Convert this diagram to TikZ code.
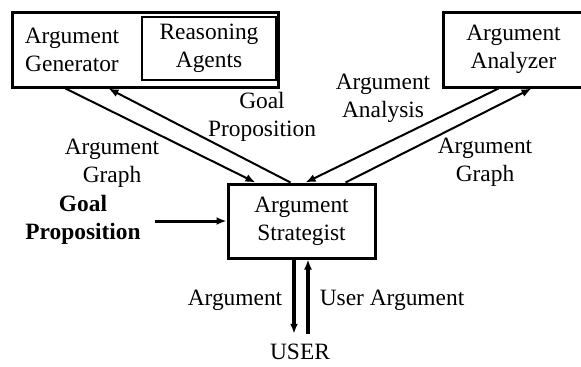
\documentclass[tikz,border=0pt]{standalone}
\usepackage{fontspec}
\setmainfont{Liberation Serif}
\usetikzlibrary{arrows.meta}
\begin{document}
\begin{tikzpicture}[x=0.5pt,y=-0.5pt,
    >={Latex[length=5pt,width=4pt]},
    every node/.style={font=\fontsize{11.7}{14}\selectfont},
    box/.style={draw,line width=1.5pt,inner sep=0pt,align=center},
    lbl/.style={align=center,inner sep=0pt},
    flow/.style={->,line width=1pt},
    userflow/.style={->,line width=1.6pt}]
    \useasboundingbox (0,0) rectangle (581,366);
    % boxes
    \draw (145,49.5) node[box,minimum width=133pt,minimum height=37.5pt] (gen) {};
    \draw (72,50) node[lbl] (gentext) {Argument\\Generator};
    \draw (209,48.5) node[box,line width=1.2pt,minimum width=67pt,minimum height=31.5pt] (agents) {Reasoning\\Agents};
    \draw (513.5,49.5) node[box,minimum width=70.5pt,minimum height=37.5pt] (ana) {Argument\\Analyzer};
    \draw (301.5,221) node[box,minimum width=73.5pt,minimum height=37pt] (strat) {Argument\\Strategist};
    \draw (83,220) node[lbl,font=\fontsize{11.7}{14}\selectfont\bfseries] (goal) {Goal\\Proposition};
    \draw (300,352) node[inner sep=5pt] (user) {USER};
    %
    \draw (112,163) node[lbl] (graphl) {Argument\\Graph};
    \draw (262,117) node[lbl] (goalm) {Goal\\Proposition};
    \draw (383,98) node[lbl] (analysis) {Argument\\Analysis};
    \draw (485,162) node[lbl] (graphr) {Argument\\Graph};
    \draw (235,300) node[lbl] (argl) {Argument};
    \draw (392,300) node[lbl] (userarg) {User Argument};
    %
    \draw[flow] ([xshift=27.5pt]gen.south west) -- ([xshift=14.5pt]strat.north west);
    \draw[flow] ([xshift=32pt]strat.north west) -- ([xshift=49pt]gen.south west);
    \draw[flow] ([xshift=28.5pt]ana.south west) -- ([xshift=39.5pt]strat.north west);
    \draw[flow] ([xshift=59.5pt]strat.north west) -- ([xshift=45pt]ana.south west);
    \draw[->,line width=1.5pt] ([xshift=6.75pt]goal.east |- strat.west) -- (strat.west);
    \draw[userflow] ([xshift=-3.75pt]strat.south) -- ([xshift=-3.75pt]strat.south |- user.north);
    \draw[userflow] ([xshift=3.25pt]strat.south |- user.north) -- ([xshift=3.25pt]strat.south);
\end{tikzpicture}
\end{document}
